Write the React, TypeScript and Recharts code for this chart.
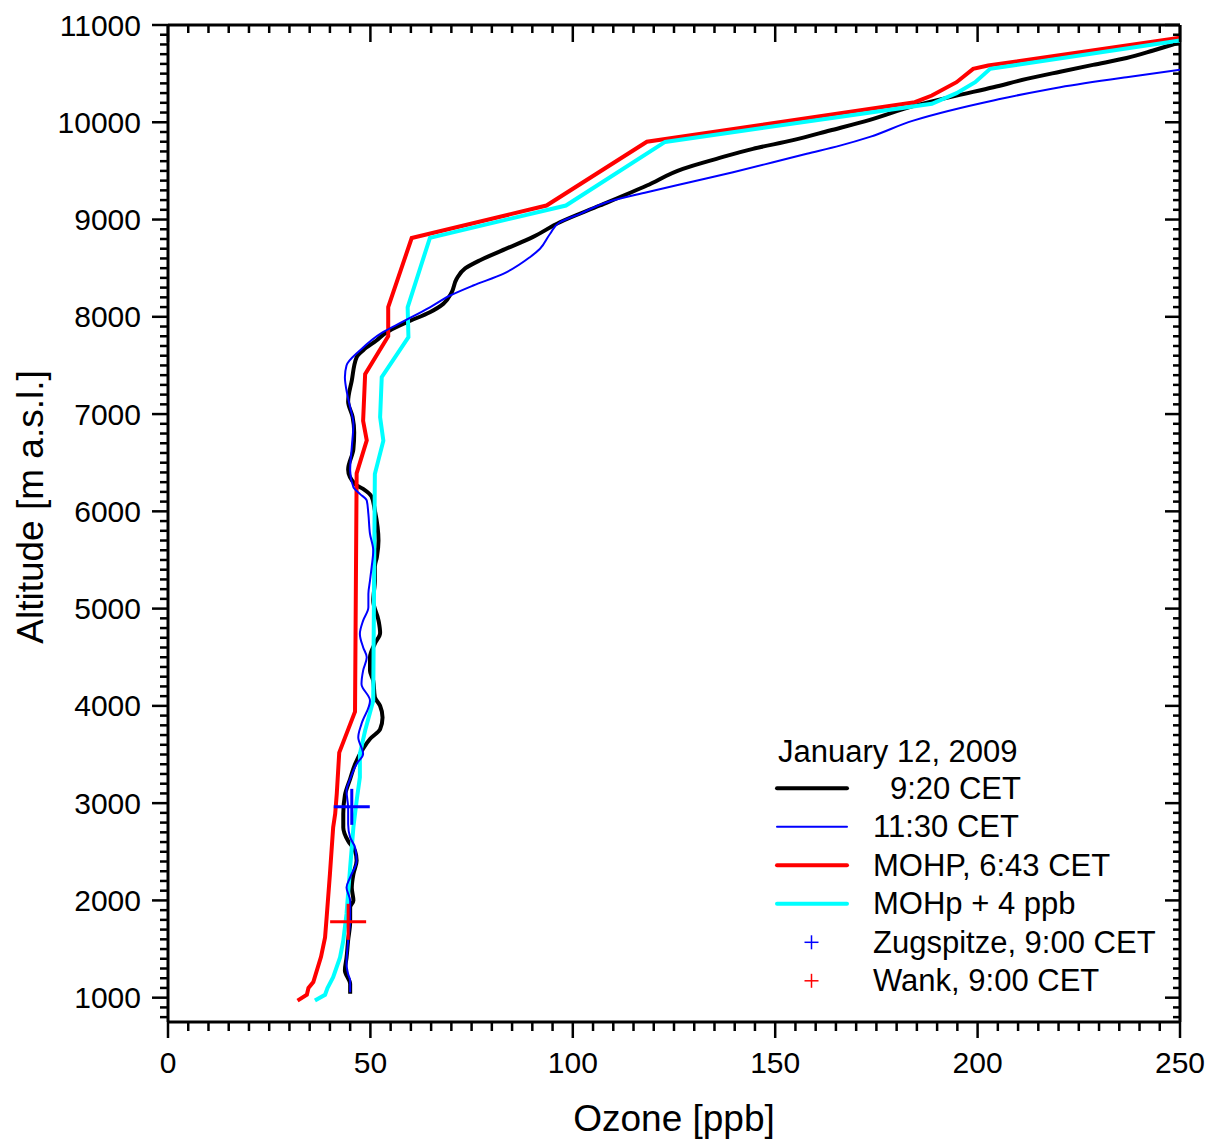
import { ScatterChart, Scatter, XAxis, YAxis, Legend } from 'recharts'

const FONT = '"Liberation Sans", Arial, sans-serif'

// [ozone ppb, altitude m a.s.l.], bottom to top
const run0920: [number, number][] = [
  [45.0, 1040], [45.0, 1140], [43.7, 1280], [44.1, 1410], [44.5, 1590], [45.0, 1780], [45.0, 1930],
  [45.8, 2000], [45.4, 2130], [45.8, 2270], [46.6, 2410], [46.2, 2510], [44.5, 2610], [43.3, 2750],
  [43.3, 2890], [43.7, 3080], [45.0, 3250], [46.2, 3400], [48.2, 3560], [49.9, 3660], [52.4, 3760],
  [53.0, 3880], [52.4, 4000], [51.1, 4090], [50.7, 4260], [49.9, 4360], [49.9, 4500], [51.1, 4640],
  [52.4, 4750], [52.0, 4880], [50.7, 5080], [51.1, 5290], [51.1, 5430], [51.6, 5530], [52.0, 5700],
  [51.1, 6010], [50.3, 6150], [48.2, 6230], [46.2, 6280], [44.5, 6430], [45.8, 6640], [46.0, 6810],
  [45.6, 6970], [44.5, 7130], [45.4, 7345], [46.6, 7585], [48.3, 7660], [51.5, 7756], [54.0, 7841],
  [59.0, 7944], [64.7, 8047], [68.0, 8133], [70.1, 8253], [71.3, 8390], [73.4, 8497], [77.1, 8582],
  [83.7, 8703], [90.2, 8822], [96.8, 8972], [106.7, 9144], [118.3, 9350], [127.2, 9521], [135.5, 9624],
  [144.5, 9727], [154.4, 9816], [163.5, 9915], [173.4, 10025], [184.5, 10171], [194.8, 10274],
  [203.9, 10360], [212.1, 10446], [220.4, 10520], [228.5, 10590], [236.8, 10660], [243.4, 10738],
  [248.8, 10807], [250, 10823],
]

const run1130: [number, number][] = [
  [45.0, 1055], [45.0, 1175], [44.5, 1244], [44.1, 1346], [44.5, 1586], [45.0, 1800], [45.0, 1997],
  [44.1, 2134], [45.0, 2237], [46.6, 2409], [46.2, 2546], [45.0, 2648], [44.5, 2786], [44.5, 2950],
  [44.1, 3129], [45.0, 3249], [46.6, 3403], [48.2, 3506], [47.0, 3677], [47.8, 3815], [49.9, 4054],
  [47.8, 4226], [48.2, 4363], [49.1, 4500], [48.2, 4603], [47.4, 4740], [48.2, 4877], [49.5, 5014],
  [49.5, 5151], [49.9, 5288], [50.3, 5425], [50.7, 5597], [49.9, 5768], [49.5, 5974], [49.1, 6111],
  [47.4, 6180], [45.8, 6248], [45.0, 6419], [45.4, 6660], [45.8, 6899], [45.0, 7070], [44.3, 7200],
  [43.7, 7379], [44.1, 7499], [47.4, 7654], [53.0, 7840], [58.0, 7950], [64.7, 8098], [69.7, 8219],
  [75.4, 8322], [82.8, 8442], [89.4, 8613], [91.9, 8700], [94.4, 8854], [96.8, 8972], [101.8, 9059],
  [108.4, 9178], [118.3, 9281], [128.9, 9384], [139.6, 9487], [149.5, 9589], [157.8, 9676],
  [166.0, 9760], [173.4, 9850], [184.1, 10017], [203.9, 10224], [220.4, 10361], [236.8, 10463],
  [250, 10539],
]

const mohp0643: [number, number][] = [
  [32.0, 970], [34.3, 1030], [34.7, 1100], [35.9, 1160], [37.8, 1420], [38.8, 1620], [39.2, 1830],
  [40.0, 2270], [40.8, 2750], [41.3, 2890], [41.7, 3100], [42.3, 3520], [46.2, 3940], [46.6, 6390],
  [49.1, 6730], [48.2, 6930], [48.7, 7410], [54.4, 7800], [54.4, 8100], [60.2, 8810], [93.5, 9144],
  [118.3, 9800], [184.5, 10206], [188.7, 10275], [194.8, 10412], [198.9, 10549], [202.6, 10583],
  [250, 10868],
]

const mohpPlus4: [number, number][] = [
  [36.3, 970], [38.8, 1030], [39.4, 1100], [40.8, 1210], [42.5, 1414], [43.3, 1586], [44.1, 1861],
  [45.0, 2340], [45.8, 2751], [46.6, 3026], [47.4, 3265], [47.4, 3506], [48.7, 3746], [50.7, 4054],
  [51.1, 6385], [53.2, 6727], [52.4, 6968], [52.8, 7379], [59.4, 7790], [59.2, 8098], [64.7, 8812],
  [98.3, 9144], [122.8, 9798], [188.7, 10190], [194.8, 10299], [199.4, 10412], [203.1, 10549],
  [250, 10840],
]

const zugspitze: [number, number][] = [[45.4, 2962]]
const wank: [number, number][] = [[44.5, 1780]]

const xTicks = Array.from({ length: 51 }, (_, i) => i * 5)
const yTicks = Array.from({ length: 103 }, (_, i) => 800 + i * 100)

const toRows = (pts: [number, number][]) => pts.map(([o3, alt]) => ({ o3, alt }))

const legendItems = [
  { label: '9:20 CET', color: '#000000', width: 4, kind: 'line', indent: 113 },
  { label: '11:30 CET', color: '#0000ff', width: 2, kind: 'line', indent: 96 },
  { label: 'MOHP, 6:43 CET', color: '#ff0000', width: 4, kind: 'line', indent: 96 },
  { label: 'MOHp + 4 ppb', color: '#00ffff', width: 4, kind: 'line', indent: 96 },
  { label: 'Zugspitze, 9:00 CET', color: '#0000ff', width: 1.5, kind: 'plus', indent: 96 },
  { label: 'Wank, 9:00 CET', color: '#ff0000', width: 1.5, kind: 'plus', indent: 96 },
]

const noDot = () => <g />

const plus = (color: string) => (props: any) => (
  <g>
    <line x1={props.cx - 18} y1={props.cy} x2={props.cx + 18} y2={props.cy} stroke={color} strokeWidth={3} />
    <line x1={props.cx} y1={props.cy - 18} x2={props.cx} y2={props.cy + 18} stroke={color} strokeWidth={3} />
  </g>
)

function LeftTick({ x, y, payload }: any) {
  const major = payload.value % 1000 === 0
  return (
    <g>
      <line x1={x} y1={y} x2={x - (major ? 16 : 8)} y2={y} stroke="#000" strokeWidth={2.5} />
      {major && (
        <text x={x - 27} y={y + 10.5} textAnchor="end" fontSize={30} fontFamily={FONT} fill="#000">
          {payload.value}
        </text>
      )}
    </g>
  )
}

function RightTick({ x, y, payload }: any) {
  const major = payload.value % 1000 === 0
  return <line x1={x} y1={y} x2={x - (major ? 15 : 7)} y2={y} stroke="#000" strokeWidth={2.5} />
}

function BottomTick({ x, y, payload }: any) {
  const major = payload.value % 50 === 0
  return (
    <g>
      <line x1={x} y1={y} x2={x} y2={y + (major ? 16 : 9)} stroke="#000" strokeWidth={2.5} />
      {major && (
        <text x={x} y={y + 51} textAnchor="middle" fontSize={30} fontFamily={FONT} fill="#000">
          {payload.value}
        </text>
      )}
    </g>
  )
}

function TopTick({ x, y, payload }: any) {
  const major = payload.value % 50 === 0
  return <line x1={x} y1={y} x2={x} y2={y + (major ? 17 : 8)} stroke="#000" strokeWidth={2.5} />
}

function LegendBox() {
  return (
    <svg width={430} height={280} style={{ display: 'block' }}>
      <text x={18} y={32} fontSize={31} fontFamily={FONT} fill="#000">January 12, 2009</text>
      {legendItems.map((item, i) => {
        const cy = 58.3 + i * 38.5
        return (
          <g key={item.label}>
            {item.kind === 'line' ? (
              <line x1={17} y1={cy} x2={87} y2={cy} stroke={item.color} strokeWidth={item.width} strokeLinecap="round" />
            ) : (
              <g>
                <line x1={44.5} y1={cy} x2={58.5} y2={cy} stroke={item.color} strokeWidth={item.width} />
                <line x1={51.5} y1={cy - 7} x2={51.5} y2={cy + 7} stroke={item.color} strokeWidth={item.width} />
              </g>
            )}
            <text x={17 + item.indent} y={cy + 10.5} fontSize={31} fontFamily={FONT} fill="#000">
              {item.label}
            </text>
          </g>
        )
      })}
    </svg>
  )
}

export default function App() {
  const frame = { stroke: '#000', strokeWidth: 3 }
  return (
    <div style={{ position: 'absolute', left: 0, top: 0, background: '#fff' }}>
      <ScatterChart width={1218} height={1145} margin={{ top: 24, right: 37, bottom: 0, left: 0 }}>
        <XAxis
          type="number"
          dataKey="o3"
          domain={[0, 250]}
          ticks={xTicks}
          interval={0}
          allowDataOverflow
          height={123}
          tickSize={0}
          tickMargin={0}
          tickLine={false}
          axisLine={frame}
          tick={<BottomTick />}
          label={() => (
            <text x={674} y={1131} textAnchor="middle" fontSize={37} fontFamily={FONT} fill="#000">
              Ozone [ppb]
            </text>
          )}
        />
        <XAxis
          xAxisId="top"
          orientation="top"
          type="number"
          dataKey="o3"
          domain={[0, 250]}
          ticks={xTicks}
          interval={0}
          allowDataOverflow
          height={1}
          tickSize={0}
          tickMargin={0}
          tickLine={false}
          axisLine={frame}
          tick={<TopTick />}
        />
        <YAxis
          type="number"
          dataKey="alt"
          domain={[750, 11000]}
          ticks={yTicks}
          interval={0}
          allowDataOverflow
          width={168}
          tickSize={0}
          tickMargin={0}
          tickLine={false}
          axisLine={frame}
          tick={<LeftTick />}
          label={() => (
            <text
              x={43}
              y={507}
              transform="rotate(-90 43 507)"
              textAnchor="middle"
              fontSize={37}
              fontFamily={FONT}
              fill="#000"
            >
              Altitude [m a.s.l.]
            </text>
          )}
        />
        <YAxis
          yAxisId="right"
          orientation="right"
          type="number"
          dataKey="alt"
          domain={[750, 11000]}
          ticks={yTicks}
          interval={0}
          allowDataOverflow
          width={1}
          tickSize={0}
          tickMargin={0}
          tickLine={false}
          axisLine={frame}
          tick={<RightTick />}
        />
        <Scatter
          name="9:20 CET"
          data={toRows(run0920)}
          fill="#000000"
          line={{ stroke: '#000000', strokeWidth: 4 }}
          lineJointType="monotoneY"
          shape={noDot}
          isAnimationActive={false}
        />
        <Scatter
          name="MOHP, 6:43 CET"
          data={toRows(mohp0643)}
          fill="#ff0000"
          line={{ stroke: '#ff0000', strokeWidth: 4 }}
          shape={noDot}
          isAnimationActive={false}
        />
        <Scatter
          name="MOHp + 4 ppb"
          data={toRows(mohpPlus4)}
          fill="#00ffff"
          line={{ stroke: '#00ffff', strokeWidth: 4 }}
          shape={noDot}
          isAnimationActive={false}
        />
        <Scatter
          name="11:30 CET"
          data={toRows(run1130)}
          fill="#0000ff"
          line={{ stroke: '#0000ff', strokeWidth: 2 }}
          lineJointType="monotoneY"
          shape={noDot}
          isAnimationActive={false}
        />
        <Scatter
          name="Zugspitze, 9:00 CET"
          data={toRows(zugspitze)}
          xAxisId="top"
          yAxisId="right"
          fill="#0000ff"
          shape={plus('#0000ff')}
          isAnimationActive={false}
        />
        <Scatter
          name="Wank, 9:00 CET"
          data={toRows(wank)}
          xAxisId="top"
          yAxisId="right"
          fill="#ff0000"
          shape={plus('#ff0000')}
          isAnimationActive={false}
        />
        <Legend
          layout="vertical"
          align="center"
          verticalAlign="middle"
          wrapperStyle={{ left: 760, top: 730, width: 430, height: 280 }}
          content={() => <LegendBox />}
        />
      </ScatterChart>
    </div>
  )
}
